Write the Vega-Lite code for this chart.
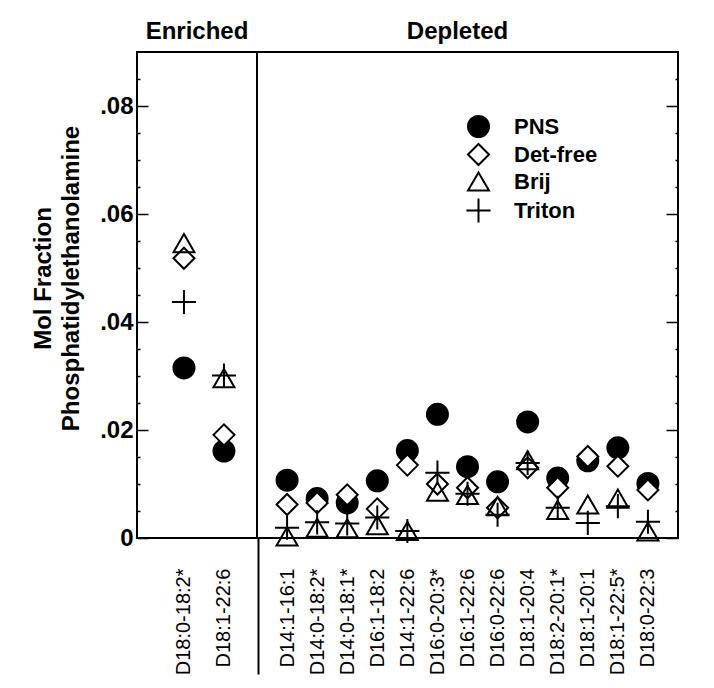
{
  "$schema": "https://vega.github.io/schema/vega-lite/v6.json",
  "background": "white",
  "padding": {"left": 30, "top": 19, "right": 5, "bottom": 5},
  "config": {
    "font": "Liberation Sans",
    "view": {"stroke": "black", "strokeWidth": 2},
    "axis": {"grid": false, "labelColor": "black", "titleColor": "black", "tickColor": "black"},
    "title": {"fontSize": 24, "fontWeight": "bold", "color": "black"}
  },
  "data": {
    "values": [
      {"group": "Enriched", "species": "D18:0-18:2*", "series": "PNS", "value": 0.0315},
      {"group": "Enriched", "species": "D18:1-22:6", "series": "PNS", "value": 0.0161},
      {"group": "Depleted", "species": "D14:1-16:1", "series": "PNS", "value": 0.0107},
      {"group": "Depleted", "species": "D14:0-18:2*", "series": "PNS", "value": 0.0073},
      {"group": "Depleted", "species": "D14:0-18:1*", "series": "PNS", "value": 0.0065},
      {"group": "Depleted", "species": "D16:1-18:2", "series": "PNS", "value": 0.0106},
      {"group": "Depleted", "species": "D14:1-22:6", "series": "PNS", "value": 0.0162},
      {"group": "Depleted", "species": "D16:0-20:3*", "series": "PNS", "value": 0.0229},
      {"group": "Depleted", "species": "D16:1-22:6", "series": "PNS", "value": 0.0132},
      {"group": "Depleted", "species": "D16:0-22:6", "series": "PNS", "value": 0.0104},
      {"group": "Depleted", "species": "D18:1-20:4", "series": "PNS", "value": 0.0215},
      {"group": "Depleted", "species": "D18:2-20:1*", "series": "PNS", "value": 0.0111},
      {"group": "Depleted", "species": "D18:1-20:1", "series": "PNS", "value": 0.0143},
      {"group": "Depleted", "species": "D18:1-22:5*", "series": "PNS", "value": 0.0167},
      {"group": "Depleted", "species": "D18:0-22:3", "series": "PNS", "value": 0.0101},

      {"group": "Enriched", "species": "D18:0-18:2*", "series": "Det-free", "value": 0.0518},
      {"group": "Enriched", "species": "D18:1-22:6", "series": "Det-free", "value": 0.0191},
      {"group": "Depleted", "species": "D14:1-16:1", "series": "Det-free", "value": 0.0062},
      {"group": "Depleted", "species": "D14:0-18:2*", "series": "Det-free", "value": 0.0065},
      {"group": "Depleted", "species": "D14:0-18:1*", "series": "Det-free", "value": 0.0080},
      {"group": "Depleted", "species": "D16:1-18:2", "series": "Det-free", "value": 0.0054},
      {"group": "Depleted", "species": "D14:1-22:6", "series": "Det-free", "value": 0.0135},
      {"group": "Depleted", "species": "D16:0-20:3*", "series": "Det-free", "value": 0.0100},
      {"group": "Depleted", "species": "D16:1-22:6", "series": "Det-free", "value": 0.0093},
      {"group": "Depleted", "species": "D16:0-22:6", "series": "Det-free", "value": 0.0056},
      {"group": "Depleted", "species": "D18:1-20:4", "series": "Det-free", "value": 0.0130},
      {"group": "Depleted", "species": "D18:2-20:1*", "series": "Det-free", "value": 0.0093},
      {"group": "Depleted", "species": "D18:1-20:1", "series": "Det-free", "value": 0.0151},
      {"group": "Depleted", "species": "D18:1-22:5*", "series": "Det-free", "value": 0.0133},
      {"group": "Depleted", "species": "D18:0-22:3", "series": "Det-free", "value": 0.0089},

      {"group": "Enriched", "species": "D18:0-18:2*", "series": "Brij", "value": 0.0546},
      {"group": "Enriched", "species": "D18:1-22:6", "series": "Brij", "value": 0.0296},
      {"group": "Depleted", "species": "D14:1-16:1", "series": "Brij", "value": 0.0003},
      {"group": "Depleted", "species": "D14:0-18:2*", "series": "Brij", "value": 0.0019},
      {"group": "Depleted", "species": "D14:0-18:1*", "series": "Brij", "value": 0.0018},
      {"group": "Depleted", "species": "D16:1-18:2", "series": "Brij", "value": 0.0024},
      {"group": "Depleted", "species": "D14:1-22:6", "series": "Brij", "value": 0.0013},
      {"group": "Depleted", "species": "D16:0-20:3*", "series": "Brij", "value": 0.0086},
      {"group": "Depleted", "species": "D16:1-22:6", "series": "Brij", "value": 0.0080},
      {"group": "Depleted", "species": "D16:0-22:6", "series": "Brij", "value": 0.0059},
      {"group": "Depleted", "species": "D18:1-20:4", "series": "Brij", "value": 0.0144},
      {"group": "Depleted", "species": "D18:2-20:1*", "series": "Brij", "value": 0.0052},
      {"group": "Depleted", "species": "D18:1-20:1", "series": "Brij", "value": 0.0062},
      {"group": "Depleted", "species": "D18:1-22:5*", "series": "Brij", "value": 0.0073},
      {"group": "Depleted", "species": "D18:0-22:3", "series": "Brij", "value": 0.0012},

      {"group": "Enriched", "species": "D18:0-18:2*", "series": "Triton", "value": 0.0437},
      {"group": "Enriched", "species": "D18:1-22:6", "series": "Triton", "value": 0.0301},
      {"group": "Depleted", "species": "D14:1-16:1", "series": "Triton", "value": 0.0019},
      {"group": "Depleted", "species": "D14:0-18:2*", "series": "Triton", "value": 0.0029},
      {"group": "Depleted", "species": "D14:0-18:1*", "series": "Triton", "value": 0.0027},
      {"group": "Depleted", "species": "D16:1-18:2", "series": "Triton", "value": 0.0038},
      {"group": "Depleted", "species": "D14:1-22:6", "series": "Triton", "value": 0.0013},
      {"group": "Depleted", "species": "D16:0-20:3*", "series": "Triton", "value": 0.0121},
      {"group": "Depleted", "species": "D16:1-22:6", "series": "Triton", "value": 0.0082},
      {"group": "Depleted", "species": "D16:0-22:6", "series": "Triton", "value": 0.0043},
      {"group": "Depleted", "species": "D18:1-20:4", "series": "Triton", "value": 0.0139},
      {"group": "Depleted", "species": "D18:2-20:1*", "series": "Triton", "value": 0.0056},
      {"group": "Depleted", "species": "D18:1-20:1", "series": "Triton", "value": 0.0028},
      {"group": "Depleted", "species": "D18:1-22:5*", "series": "Triton", "value": 0.0059},
      {"group": "Depleted", "species": "D18:0-22:3", "series": "Triton", "value": 0.0030}
    ]
  },
  "spacing": 0,
  "bounds": "flush",
  "resolve": {"legend": {"shape": "independent", "color": "independent"}},
  "hconcat": [
    {
      "width": 120,
      "height": 486,
      "title": {"text": "Enriched", "offset": 8},
      "transform": [{"filter": "datum.group == 'Enriched'"}],
      "mark": {"type": "point", "filled": true, "stroke": "black", "strokeWidth": 2, "opacity": 1, "size": 441},
      "encoding": {
        "x": {
          "field": "species", "type": "nominal", "sort": null,
          "scale": {"type": "point", "padding": 1.12, "align": 0.587},
          "axis": {
            "title": null, "labelAngle": 270, "labelFontSize": 20, "labelOverlap": false,
            "domain": false, "ticks": true, "tickSize": 136, "tickWidth": 2,
            "tickOffset": 34.3, "labelOffset": -34.3, "labelPadding": -106,
            "tickOpacity": {"condition": {"test": "datum.value === 'D18:1-22:6'", "value": 1}, "value": 0}
          }
        },
        "y": {
          "field": "value", "type": "quantitative",
          "scale": {"domain": [0, 0.09], "nice": false, "zero": true},
          "axis": {
            "title": ["Mol Fraction", "Phosphatidylethanolamine"],
            "titleFontSize": 24, "titleFontWeight": "bold", "titleLineHeight": 28, "titlePadding": 16, "titleY": 226,
            "values": [0, 0.005, 0.01, 0.015, 0.02, 0.025, 0.03, 0.035, 0.04, 0.045, 0.05, 0.055, 0.06, 0.065, 0.07, 0.075, 0.08, 0.085],
            "labelExpr": "round(datum.value*1000) % 20 == 0 ? (datum.value == 0 ? '0' : replace(format(datum.value, '.2f'), '0.', '.')) : ''",
            "labelFontSize": 24, "labelFontWeight": "bold", "labelPadding": 15,
            "domain": false, "tickWidth": 1.5, "tickSize": -11,
            "tickDash": {"condition": {"test": "round(datum.value*1000) % 20 == 0", "value": [20, 0]}, "value": [3, 20]}
          }
        },
        "shape": {
          "field": "series", "type": "nominal", "sort": null,
          "scale": {"domain": ["PNS", "Det-free", "Brij", "Triton"], "range": ["circle", "diamond", "triangle-up", "M-1.15,0H1.15M0,-1.15V1.15"]},
          "legend": null
        },
        "color": {
          "field": "series", "type": "nominal", "sort": null,
          "scale": {"domain": ["PNS", "Det-free", "Brij", "Triton"], "range": ["black", "white", "transparent", "transparent"]},
          "legend": null
        }
      }
    },
    {
      "width": 421,
      "height": 486,
      "title": {"text": "Depleted", "offset": 8, "dx": -10},
      "transform": [{"filter": "datum.group == 'Depleted'"}],
      "mark": {"type": "point", "filled": true, "stroke": "black", "strokeWidth": 2, "opacity": 1, "size": 441},
      "encoding": {
        "x": {
          "field": "species", "type": "nominal", "sort": null,
          "scale": {"type": "point", "padding": 1},
          "axis": {
            "title": null, "labelAngle": 270, "labelFontSize": 20, "labelOverlap": false,
            "domain": false, "ticks": false, "labelPadding": 30
          }
        },
        "y": {
          "field": "value", "type": "quantitative",
          "scale": {"domain": [0, 0.09], "nice": false, "zero": true},
          "axis": {
            "orient": "right", "title": null, "labels": false,
            "values": [0, 0.005, 0.01, 0.015, 0.02, 0.025, 0.03, 0.035, 0.04, 0.045, 0.05, 0.055, 0.06, 0.065, 0.07, 0.075, 0.08, 0.085],
            "domain": false, "tickWidth": 1.5, "tickSize": -12,
            "tickDash": {"condition": {"test": "round(datum.value*1000) % 20 == 0", "value": [20, 0]}, "value": [3, 20]}
          }
        },
        "shape": {
          "field": "series", "type": "nominal", "sort": null,
          "scale": {"domain": ["PNS", "Det-free", "Brij", "Triton"], "range": ["circle", "diamond", "triangle-up", "M-1.15,0H1.15M0,-1.15V1.15"]},
          "legend": {
            "orient": "none", "legendX": 210, "legendY": 63, "title": null,
            "labelFontSize": 22, "labelFontWeight": "bold", "labelColor": "black",
            "symbolSize": 441, "symbolStrokeColor": "black", "symbolStrokeWidth": 2,
            "rowPadding": -1, "labelOffset": 24,
            "encode": {"symbols": {"update": {"stroke": {"value": "black"}, "strokeWidth": {"value": 2}}}}
          }
        },
        "color": {
          "field": "series", "type": "nominal", "sort": null,
          "scale": {"domain": ["PNS", "Det-free", "Brij", "Triton"], "range": ["black", "white", "transparent", "transparent"]},
          "legend": {
            "orient": "none", "legendX": 210, "legendY": 63, "title": null,
            "labelFontSize": 22, "labelFontWeight": "bold", "labelColor": "black",
            "symbolSize": 441, "symbolStrokeColor": "black", "symbolStrokeWidth": 2,
            "rowPadding": -1, "labelOffset": 24,
            "encode": {"symbols": {"update": {"stroke": {"value": "black"}, "strokeWidth": {"value": 2}}}}
          }
        }
      }
    }
  ]
}
